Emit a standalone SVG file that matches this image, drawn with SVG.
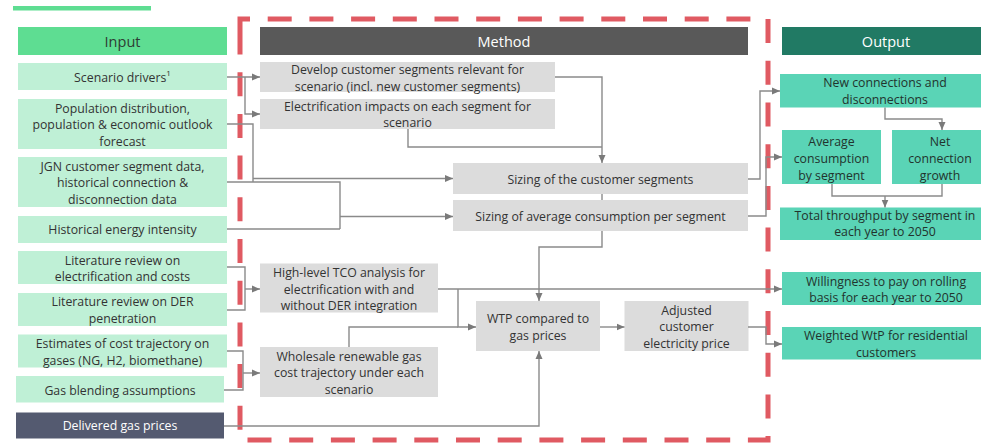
<svg xmlns="http://www.w3.org/2000/svg" width="981" height="444" viewBox="0 0 981 444">
  <style>
    text { font-family: "Open Sans", "Liberation Sans", sans-serif; font-size: 12.3px; text-anchor: middle; dominant-baseline: central; }
    .hdr { font-size: 14.5px; }
    .in rect { fill: #BFF0D6; }
    .in text { fill: #333333; }
    .me rect { fill: #DCDCDC; }
    .me text { fill: #333333; }
    .out rect { fill: #5AD4B6; }
    .out text { fill: #22332D; }
    .conn path { fill: none; stroke: #8A8A8A; stroke-width: 1.4; }
    .conn path.a { marker-end: url(#arr); }
  </style>
  <defs>
    <marker id="arr" markerUnits="userSpaceOnUse" markerWidth="9" markerHeight="8" refX="8" refY="4" orient="auto">
      <path d="M0,0.5 L8,4 L0,7.5 z" fill="#7A7A7A"/>
    </marker>
  </defs>

  <rect x="13" y="6" width="138" height="4.5" fill="#5EDD92"/>

  <!-- scope of the method stage -->
  <path d="M240,33 V19 H768 V440 H240 Z" fill="none" stroke="#E05A62" stroke-width="5" stroke-dasharray="24 17.7"/>

  <!-- column headers -->
  <g id="hdr-input">
    <rect x="18" y="27" width="209" height="28" fill="#5EDD92"/>
    <text class="hdr" x="122.5" y="41" fill="#2E3B33">Input</text>
  </g>
  <g id="hdr-method">
    <rect x="260" y="27" width="488" height="28" fill="#595959"/>
    <text class="hdr" x="504" y="41" fill="#FFFFFF">Method</text>
  </g>
  <g id="hdr-output">
    <rect x="782" y="27" width="209" height="28" fill="#217A64"/>
    <text class="hdr" x="886" y="41" fill="#FFFFFF">Output</text>
  </g>

  <!-- inputs -->
  <g id="in-scenario" class="in">
    <rect x="18" y="63" width="209" height="27"/>
    <text x="122.5" y="77">Scenario drivers<tspan font-size="8" dy="-5">1</tspan></text>
  </g>
  <g id="in-population" class="in">
    <rect x="18" y="99" width="209" height="50"/>
    <text x="122.5" y="108">Population distribution,</text>
    <text x="122.5" y="124.7">population &amp; economic outlook</text>
    <text x="122.5" y="141.3">forecast</text>
  </g>
  <g id="in-jgn" class="in">
    <rect x="18" y="157" width="209" height="50"/>
    <text x="122.5" y="166">JGN customer segment data,</text>
    <text x="122.5" y="182.7">historical connection &amp;</text>
    <text x="122.5" y="199.3">disconnection data</text>
  </g>
  <g id="in-intensity" class="in">
    <rect x="18" y="216" width="209" height="27"/>
    <text x="122.5" y="229.5">Historical energy intensity</text>
  </g>
  <g id="in-lit-elec" class="in">
    <rect x="18" y="251" width="209" height="33"/>
    <text x="122.5" y="260">Literature review on</text>
    <text x="122.5" y="276.7">electrification and costs</text>
  </g>
  <g id="in-lit-der" class="in">
    <rect x="18" y="293" width="209" height="33"/>
    <text x="122.5" y="301.7">Literature review on DER</text>
    <text x="122.5" y="318.5">penetration</text>
  </g>
  <g id="in-cost" class="in">
    <rect x="18" y="334.5" width="209" height="33"/>
    <text x="122.5" y="343.3">Estimates of cost trajectory on</text>
    <text x="122.5" y="360">gases (NG, H2, biomethane)</text>
  </g>
  <g id="in-blending" class="in">
    <rect x="16" y="376" width="208" height="26.5"/>
    <text x="120" y="390">Gas blending assumptions</text>
  </g>
  <g id="in-gas-prices">
    <rect x="16" y="412.5" width="208" height="26" fill="#545A70"/>
    <text x="120" y="425.7" fill="#FFFFFF">Delivered gas prices</text>
  </g>

  <!-- method steps -->
  <g id="m-segments" class="me">
    <rect x="260" y="62" width="295" height="30"/>
    <text x="407.5" y="69.5">Develop customer segments relevant for</text>
    <text x="407.5" y="86">scenario (incl. new customer segments)</text>
  </g>
  <g id="m-electrification" class="me">
    <rect x="260" y="99" width="295" height="30"/>
    <text x="407.5" y="106">Electrification impacts on each segment for</text>
    <text x="407.5" y="122.7">scenario</text>
  </g>
  <g id="m-sizing" class="me">
    <rect x="453" y="163" width="295" height="31"/>
    <text x="600.5" y="179">Sizing of the customer segments</text>
  </g>
  <g id="m-consumption" class="me">
    <rect x="453" y="200" width="295" height="31"/>
    <text x="600.5" y="216">Sizing of average consumption per segment</text>
  </g>
  <g id="m-tco" class="me">
    <rect x="260" y="263.5" width="178" height="49"/>
    <text x="349" y="272.3">High-level TCO analysis for</text>
    <text x="349" y="289">electrification with and</text>
    <text x="349" y="305.7">without DER integration</text>
  </g>
  <g id="m-wholesale" class="me">
    <rect x="260" y="347" width="178" height="50"/>
    <text x="349" y="356">Wholesale renewable gas</text>
    <text x="349" y="372.7">cost trajectory under each</text>
    <text x="349" y="389.3">scenario</text>
  </g>
  <g id="m-wtp" class="me">
    <rect x="476" y="301" width="124" height="50"/>
    <text x="538" y="318.3">WTP compared to</text>
    <text x="538" y="335">gas prices</text>
  </g>
  <g id="m-adjusted" class="me">
    <rect x="624.5" y="301" width="124" height="50"/>
    <text x="686.5" y="310">Adjusted</text>
    <text x="686.5" y="326.7">customer</text>
    <text x="686.5" y="343.3">electricity price</text>
  </g>

  <!-- outputs -->
  <g id="o-connections" class="out">
    <rect x="780" y="74" width="211" height="33.5"/>
    <text x="885" y="82.7">New connections and</text>
    <text x="885" y="99.3">disconnections</text>
  </g>
  <g id="o-avg-consumption" class="out">
    <rect x="782" y="130" width="99" height="54"/>
    <text x="831.5" y="141.7">Average</text>
    <text x="831.5" y="158.3">consumption</text>
    <text x="831.5" y="175">by segment</text>
  </g>
  <g id="o-net-growth" class="out">
    <rect x="892" y="130" width="96" height="54"/>
    <text x="940" y="141.7">Net</text>
    <text x="940" y="158.3">connection</text>
    <text x="940" y="175">growth</text>
  </g>
  <g id="o-throughput" class="out">
    <rect x="780" y="207.5" width="211" height="32.5"/>
    <text x="885" y="215">Total throughput by segment in</text>
    <text x="885" y="231.7">each year to 2050</text>
  </g>
  <g id="o-wtp" class="out">
    <rect x="782" y="272" width="209" height="33"/>
    <text x="886" y="281">Willingness to pay on rolling</text>
    <text x="886" y="297.7">basis for each year to 2050</text>
  </g>
  <g id="o-weighted" class="out">
    <rect x="782" y="327" width="209" height="32.5"/>
    <text x="886" y="335">Weighted WtP for residential</text>
    <text x="886" y="352">customers</text>
  </g>

  <!-- connectors -->
  <g id="connectors" class="conn">
    <path class="a" d="M227,77 H260"/>
    <path class="a" d="M245,77 V114 H260"/>
    <path d="M227,124 H253 V182"/>
    <path d="M227,182 H340 V229"/>
    <path d="M227,229 H340"/>
    <path class="a" d="M253,178.5 H453"/>
    <path class="a" d="M340,216.5 H453"/>
    <path class="a" d="M555,77 H602 V163"/>
    <path d="M408,129 V147 H602"/>
    <path d="M602,194 V200"/>
    <path class="a" d="M602,231 V247 H539 V301"/>
    <path class="a" d="M748,179 H760 V91 H780"/>
    <path class="a" d="M748,216 H766 V157 H782"/>
    <path class="a" d="M885,107.5 V119 H942 V130"/>
    <path d="M832,184 V196 H942 V184"/>
    <path class="a" d="M885,196 V207.5"/>
    <path d="M227,267 H245 V310 H227"/>
    <path class="a" d="M245,289 H260"/>
    <path d="M227,351 H243 V390 H224"/>
    <path class="a" d="M243,373 H260"/>
    <path class="a" d="M438,289 H782"/>
    <path class="a" d="M458,289 V327 H476"/>
    <path d="M349,347 V327 H458"/>
    <path class="a" d="M224,426 H539 V351"/>
    <path class="a" d="M600,327 H624.5"/>
    <path class="a" d="M748,327 H766 V344 H782"/>
  </g>
</svg>
